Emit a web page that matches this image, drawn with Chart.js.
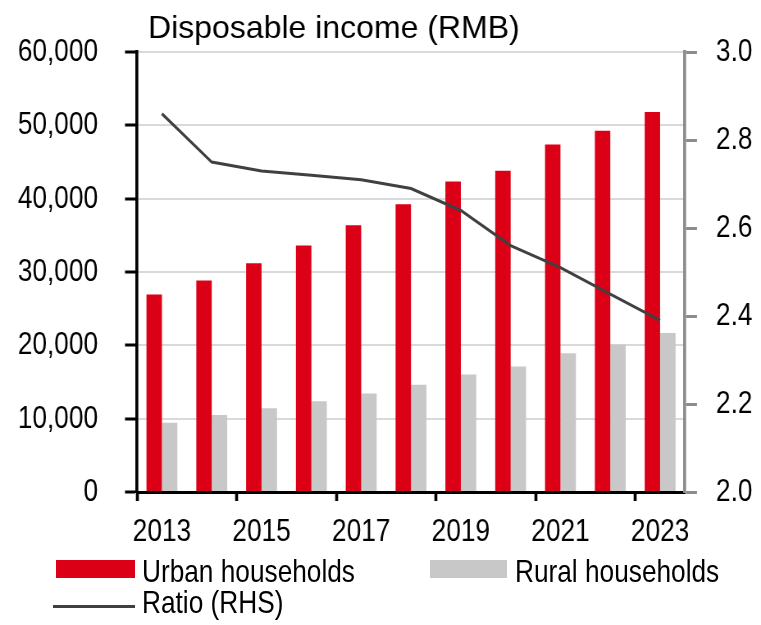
<!DOCTYPE html>
<html>
<head>
<meta charset="utf-8">
<script src="https://cdn.jsdelivr.net/npm/chart.js@4"></script>
<style>
  body { margin: 0; background: #fff; }
  #wrap { position: relative; width: 761px; height: 625px; overflow: hidden; }
  #chart { display: block; width: 761px; height: 625px; }
  .legend { position: absolute; font-family: "Liberation Sans", Arial, sans-serif; font-size: 32px; line-height: 32px; color: #000; white-space: nowrap; transform: scaleX(0.82); transform-origin: left top; }
  .swatch { position: absolute; }
</style>
</head>
<body>
<div id="wrap">
  <canvas id="chart" width="928" height="625" style="width:761px;height:625px"></canvas>
  <div class="swatch" style="left:56px;top:560px;width:79px;height:18px;background:#DC0016"></div>
  <div class="legend" style="left:142px;top:555px">Urban households</div>
  <div class="swatch" style="left:430px;top:560px;width:77px;height:18px;background:#C8C8C8"></div>
  <div class="legend" style="left:515px;top:555px">Rural households</div>
  <div class="swatch" style="left:53px;top:605px;width:82px;height:3px;background:#404040"></div>
  <div class="legend" style="left:142px;top:586px">Ratio (RHS)</div>
</div>
<script>
const years = ["2013", "2014", "2015", "2016", "2017", "2018", "2019", "2020", "2021", "2022", "2023"];
const urban = [26955, 28844, 31195, 33616, 36396, 39251, 42359, 43834, 47412, 49283, 51821];
const rural = [9430, 10489, 11422, 12363, 13432, 14617, 16021, 17131, 18931, 20133, 21691];
const ratio = [2.86, 2.75, 2.73, 2.72, 2.71, 2.69, 2.64, 2.56, 2.51, 2.45, 2.39];

// canvas is drawn wider and squeezed to 761px, which gives the narrow type of the original
const K = 761 / 928;
const FONT = "'Liberation Sans', Arial, sans-serif";

const titlePlugin = {
  id: "cornerTitle",
  afterDraw(chart) {
    const ctx = chart.ctx;
    ctx.save();
    ctx.translate(148 / K, 38);
    ctx.scale(1 / K, 1);
    ctx.font = "32px " + FONT;
    ctx.fillStyle = "#000";
    ctx.textBaseline = "alphabetic";
    ctx.fillText("Disposable income (RMB)", 0, 0);
    ctx.restore();
  },
};

new Chart(document.getElementById("chart"), {
  type: "bar",
  data: {
    labels: years,
    datasets: [
      {
        type: "line",
        label: "Ratio (RHS)",
        data: ratio,
        yAxisID: "y2",
        borderColor: "#404040",
        borderWidth: 3,
        pointRadius: 0,
        tension: 0,
        order: 0,
      },
      {
        label: "Urban households",
        data: urban,
        backgroundColor: "#DC0016",
        yAxisID: "y",
        categoryPercentage: 0.62,
        barPercentage: 1,
        order: 1,
      },
      {
        label: "Rural households",
        data: rural,
        backgroundColor: "#C8C8C8",
        yAxisID: "y",
        categoryPercentage: 0.62,
        barPercentage: 1,
        order: 1,
      },
    ],
  },
  options: {
    responsive: false,
    devicePixelRatio: 1,
    animation: false,
    layout: { padding: { top: 47, bottom: 72, left: 0, right: 0 } },
    plugins: {
      legend: { display: false },
      tooltip: { enabled: false },
    },
    scales: {
      x: {
        offset: true,
        afterFit: (s) => { s.height = 61; },
        border: { color: "#000", width: 3 },
        grid: {
          offset: true,
          drawOnChartArea: false,
          drawTicks: true,
          tickLength: 9,
          tickWidth: 3 / K,
          color: (c) => (c.index % 2 === 0 ? "#000" : "rgba(0,0,0,0)"),
          tickColor: (c) => (c.index % 2 === 0 ? "#000" : "rgba(0,0,0,0)"),
        },
        ticks: {
          autoSkip: false,
          maxRotation: 0,
          padding: 12,
          color: "#000",
          font: { family: FONT, size: 32 },
          callback: (v, i) => (i % 2 === 0 ? years[i] : ""),
        },
      },
      y: {
        position: "left",
        min: 0,
        max: 60000,
        afterFit: (s) => { s.width = 137 / K; },
        border: { color: "#000", width: 3 / K },
        grid: {
          color: "#D9D9D9",
          lineWidth: 2,
          tickLength: 12 / K,
          tickWidth: 3,
          tickColor: "#000",
        },
        ticks: {
          stepSize: 10000,
          padding: 27 / K,
          color: "#000",
          font: { family: FONT, size: 32 },
          callback: (v) => v.toLocaleString("en-US"),
        },
      },
      y2: {
        position: "right",
        min: 2.0,
        max: 3.0,
        afterFit: (s) => { s.width = 928 - 685 / K; },
        border: { color: "#8C8C8C", width: 3 / K },
        grid: {
          drawOnChartArea: false,
          tickLength: 12 / K,
          tickWidth: 3,
          tickColor: "#8C8C8C",
        },
        ticks: {
          stepSize: 0.2,
          padding: 19 / K,
          color: "#000",
          font: { family: FONT, size: 32 },
          callback: (v) => v.toFixed(1),
        },
      },
    },
  },
  plugins: [titlePlugin],
});
</script>
</body>
</html>
